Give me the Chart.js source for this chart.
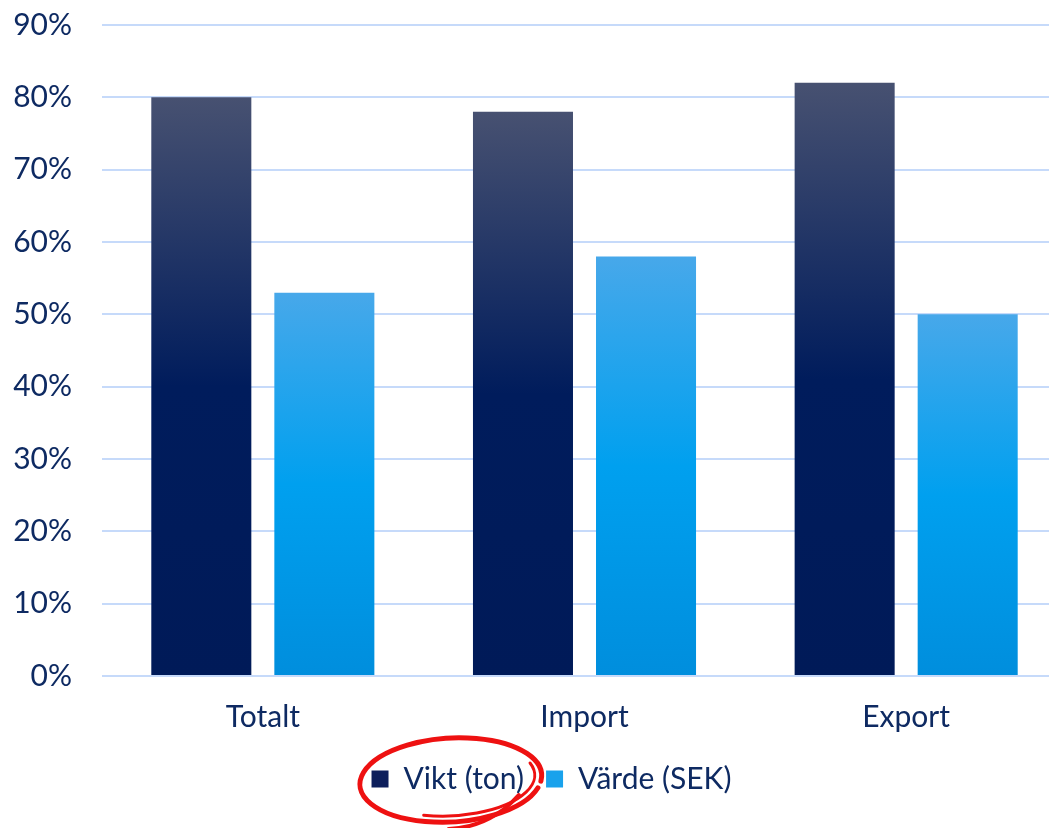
<!DOCTYPE html>
<html>
<head>
<meta charset="utf-8">
<script src="https://cdn.jsdelivr.net/npm/chart.js@4/dist/chart.umd.min.js"></script>
<style>
  html, body { margin: 0; padding: 0; background: #fff; overflow: hidden; }
  #wrap { width: 1100px; height: 828px; position: relative; }
</style>
</head>
<body>
<div id="wrap"><canvas id="plots"></canvas></div>
<script>
// data
const kategorier = ["Totalt", "Import", "Export"]
const vikt = [80, 78, 82]
const varde = [53, 58, 50]
const yTicks = [0, 10, 20, 30, 40, 50, 60, 70, 80, 90]
const serieNamn = ["Vikt (ton)", "Värde (SEK)"]

const textFarg = '#0e2a62'
const gridFarg = '#c6dafa'

// Excel style gradient per bar: light at top, solid further down
function barGradient(ctx, stops) {
  const chart = ctx.chart
  if (!chart.chartArea || ctx.type !== 'data') return stops[stops.length - 1][1]
  const y = chart.scales.y
  const top = y.getPixelForValue(ctx.raw)
  const bottom = y.getPixelForValue(0)
  const g = chart.ctx.createLinearGradient(0, top, 0, bottom)
  stops.forEach(s => g.addColorStop(s[0], s[1]))
  return g
}

const darkStops = [[0, '#475171'], [0.5, '#001c5c'], [1, '#001a58']]
const lightStops = [[0, '#47a8ea'], [0.5, '#00a0ef'], [1, '#008edd']]

// legend in the original sits a bit right of centre
const legendShift = {
  id: 'legendShift',
  afterLayout(chart) {
    chart.legend.left += 18
    chart.legend.right += 18
  }
}

const ringPlugin = {
  id: 'ring',
  afterDraw(chart) {
    const hb = chart.legend.legendHitBoxes[0]
    if (!hb) return
    const c = chart.ctx
    const cx = hb.left + hb.width / 2 + 3
    const cy = hb.top + hb.height / 2
    c.save()
    c.strokeStyle = '#ee1111'
    c.lineCap = 'round'
    c.lineWidth = 5
    c.beginPath()
    c.ellipse(cx, cy + 1, 91, 42, -0.06, Math.PI * 0.1, Math.PI * 2.05)
    c.stroke()
    c.lineWidth = 3
    c.beginPath()
    c.ellipse(cx - 2, cy - 1, 86, 38, -0.04, Math.PI * 1.9, Math.PI * 2.6)
    c.stroke()
    c.lineWidth = 4
    c.beginPath()
    c.moveTo(cx + 68, cy + 16)
    c.quadraticCurveTo(cx + 40, cy + 48, cx - 2, cy + 50)
    c.stroke()
    c.restore()
  }
}

document.addEventListener("DOMContentLoaded", function () {
  const plots = document.getElementById("plots")
  new Chart(plots, {
    type: 'bar',
    data: {
      labels: kategorier,
      datasets: [{
        label: serieNamn[0],
        data: vikt,
        backgroundColor: ctx => barGradient(ctx, darkStops),
        legendColor: '#0d1f5c'
      }, {
        label: serieNamn[1],
        data: varde,
        backgroundColor: ctx => barGradient(ctx, lightStops),
        legendColor: '#19a2ec'
      }]
    },
    options: {
      responsive: true,
      maintainAspectRatio: false,
      animation: false,
      categoryPercentage: 0.765,
      barPercentage: 0.813,
      layout: { padding: { top: 25, right: 33, bottom: 24, left: 0 } },
      scales: {
        x: {
          grid: { display: false },
          border: { display: false },
          afterFit: s => { s.height = 66; s.paddingLeft = 0; s.paddingRight = 0 },
          ticks: { color: textFarg, font: { family: 'Lato', size: 30 }, padding: 15 }
        },
        y: {
          min: 0,
          max: 90,
          afterFit: s => { s.width = 102; s.paddingTop = 0; s.paddingBottom = 0 },
          afterBuildTicks: s => { s.ticks = yTicks.map(v => ({ value: v })) },
          grid: { color: gridFarg, lineWidth: 2, drawTicks: false },
          border: { display: false },
          ticks: {
            color: textFarg,
            font: { family: 'Lato', size: 30 },
            padding: 30,
            callback: v => v + '%'
          }
        }
      },
      plugins: {
        tooltip: { enabled: false },
        legend: {
          position: 'bottom',
          labels: {
            color: textFarg,
            font: { family: 'Lato', size: 30 },
            boxWidth: 17,
            boxHeight: 17,
            padding: 22,
            generateLabels: chart => chart.data.datasets.map((d, i) => ({
              text: d.label,
              fillStyle: d.legendColor,
              strokeStyle: d.legendColor,
              lineWidth: 0,
              fontColor: textFarg,
              datasetIndex: i
            }))
          }
        }
      }
    },
    plugins: [legendShift, ringPlugin]
  })
})
</script>
</body>
</html>
